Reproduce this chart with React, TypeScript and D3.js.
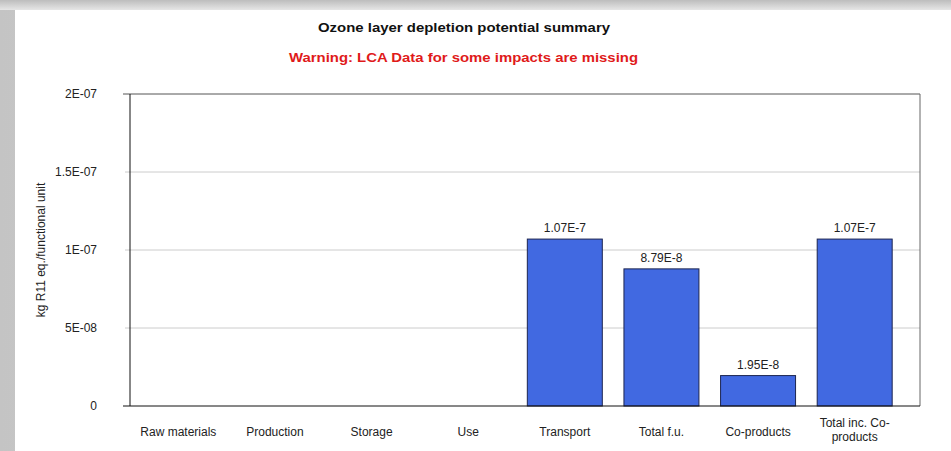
import React from "react";
import * as d3 from "d3";

const categories: string[] = [
  "Raw materials",
  "Production",
  "Storage",
  "Use",
  "Transport",
  "Total f.u.",
  "Co-products",
  "Total inc. Co-products",
];
const values: number[] = [0, 0, 0, 0, 1.07e-7, 8.79e-8, 1.95e-8, 1.07e-7];
const yTickValues: number[] = [0, 5e-8, 1e-7, 1.5e-7, 2e-7];
const yTickLabels: string[] = ["0", "5E-08", "1E-07", "1.5E-07", "2E-07"];
const xLabelLines: string[][] = [
  ["Raw materials"],
  ["Production"],
  ["Storage"],
  ["Use"],
  ["Transport"],
  ["Total f.u."],
  ["Co-products"],
  ["Total inc. Co-", "products"],
];
const titleText = "Ozone layer depletion potential summary";
const warningText = "Warning: LCA Data for some impacts are missing";
const yAxisTitle = "kg R11 eq./functional unit";

const W = 951;
const H = 451;
const plotLeft = 130;
const plotRight = 920;
const plotTop = 94;
const plotBottom = 406;
const font = "'Liberation Sans', Arial, sans-serif";

export default function App() {
  const x = d3
    .scaleBand<string>()
    .domain(categories)
    .range([plotLeft, 903])
    .paddingInner(0.224)
    .paddingOuter(0.112);
  const y = d3.scaleLinear().domain([0, 2e-7]).range([plotBottom, plotTop]);
  const fmt = (v: number) => v.toExponential(2).toUpperCase();

  return (
    <div style={{ position: "fixed", left: 0, top: 0 }}>
      <svg width={W} height={H} style={{ display: "block" }}>
        <defs>
          <linearGradient id="topShade" x1="0" y1="0" x2="0" y2="1">
            <stop offset="0" stopColor="#bdbdbd" />
            <stop offset="1" stopColor="#e6e6e6" />
          </linearGradient>
          <linearGradient id="leftShade" x1="0" y1="0" x2="1" y2="0">
            <stop offset="0" stopColor="#c4c4c4" />
            <stop offset="1" stopColor="#e8e8e8" />
          </linearGradient>
        </defs>
        <rect x={0} y={0} width={W} height={H} fill="url(#leftShade)" />
        <rect x={0} y={0} width={W} height={10} fill="url(#topShade)" />
        <rect x={15} y={10} width={W - 15} height={H - 10} fill="#ffffff" />

        <text
          x={464}
          y={32}
          textAnchor="middle"
          fontFamily={font}
          fontSize={13.5}
          fontWeight="bold"
          fill="#111"
          textLength={292}
          lengthAdjust="spacingAndGlyphs"
        >
          {titleText}
        </text>
        <text
          x={463.5}
          y={62}
          textAnchor="middle"
          fontFamily={font}
          fontSize={13.5}
          fontWeight="bold"
          fill="#e01a1a"
          textLength={349}
          lengthAdjust="spacingAndGlyphs"
        >
          {warningText}
        </text>

        {/* gridlines */}
        {yTickValues.map((t, i) =>
          t > 0 && t < 2e-7 ? (
            <line key={"g" + i} x1={125} x2={plotRight} y1={y(t)} y2={y(t)} stroke="#cccccc" strokeWidth={1} />
          ) : null
        )}
        {/* top and right border */}
        <line x1={123} x2={plotRight} y1={y(2e-7)} y2={y(2e-7)} stroke="#555" strokeWidth={1} />
        <line x1={plotRight} x2={plotRight} y1={plotTop} y2={plotBottom} stroke="#666" strokeWidth={1} />

        {/* bars */}
        {categories.map((c, i) =>
          values[i] > 0 ? (
            <rect
              key={"b" + i}
              x={x(c)}
              y={y(values[i])}
              width={x.bandwidth()}
              height={y(0) - y(values[i])}
              fill="#4169e1"
              stroke="#1c2550"
              strokeWidth={1}
            />
          ) : null
        )}
        {categories.map((c, i) =>
          values[i] > 0 ? (
            <text
              key={"v" + i}
              x={(x(c) as number) + x.bandwidth() / 2}
              y={y(values[i]) - 7}
              textAnchor="middle"
              fontFamily={font}
              fontSize={12}
              fill="#222"
            >
              {fmt(values[i])}
            </text>
          ) : null
        )}

        {/* axes */}
        <line x1={plotLeft} x2={plotLeft} y1={plotTop} y2={plotBottom} stroke="#111" strokeWidth={1} />
        <line x1={123} x2={plotRight} y1={plotBottom} y2={plotBottom} stroke="#111" strokeWidth={1} />

        {yTickValues.map((t, i) => (
          <text
            key={"yt" + i}
            x={97}
            y={y(t) + 4}
            textAnchor="end"
            fontFamily={font}
            fontSize={12}
            fill="#222"
          >
            {yTickLabels[i]}
          </text>
        ))}

        {categories.map((c, i) => {
          const lines = xLabelLines[i];
          const cx = (x(c) as number) + x.bandwidth() / 2;
          const base = lines.length > 1 ? 427 : 436;
          return (
            <text key={"xl" + i} textAnchor="middle" fontFamily={font} fontSize={12} fill="#222">
              {lines.map((ln, j) => (
                <tspan key={j} x={cx} y={base + j * 14}>
                  {ln}
                </tspan>
              ))}
            </text>
          );
        })}

        <text
          transform={`translate(45, ${(plotTop + plotBottom) / 2}) rotate(-90)`}
          textAnchor="middle"
          fontFamily={font}
          fontSize={12}
          fill="#222"
        >
          {yAxisTitle}
        </text>
      </svg>
    </div>
  );
}
